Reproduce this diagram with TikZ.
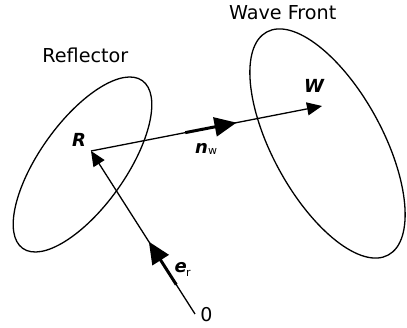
\documentclass[tikz,border=0pt]{standalone}
\usepackage{fontspec}
\setmainfont{DejaVu Sans}
\usetikzlibrary{arrows.meta,calc}
\tikzset{
  outline/.style={line width=1.3pt},
  thinvec/.style={line width=1.3pt,-{Triangle[length=15pt,width=13pt]}},
  thickvec/.style={line width=3pt,-{Triangle[length=22pt,width=19pt]}},
  lbl/.style={inner sep=0pt,outer sep=0pt,anchor=base west},
  pointlbl/.style={lbl,font=\fontsize{18}{20}\selectfont\bfseries\itshape},
  veclbl/.style={lbl,font=\fontsize{18}{20}\selectfont\bfseries\itshape},
  sublbl/.style={lbl,font=\fontsize{11}{12}\selectfont},
  textlbl/.style={lbl,font=\fontsize{19.2}{22}\selectfont},
}
\begin{document}
\begin{tikzpicture}[x=1pt,y=1pt]
\useasboundingbox (0,0) rectangle (407,328);
% ellipses
\draw[outline,rotate around={54.5:(82.5,163.5)}] (82.5,163.5) ellipse [x radius=103pt, y radius=43pt];
\draw[outline,rotate around={-61.4:(327.5,184.5)}] (327.5,184.5) ellipse [x radius=127pt, y radius=55pt];
% points
\coordinate (O) at (195,14);
\coordinate (R) at (91,177);
\coordinate (W) at (322,222);
% connectors
\draw[thinvec] (O) -- (R);
\draw[thinvec] (R) -- (W);
\draw[thickvec] ($(O)!0.18!(R)$) -- ($(O)!0.444!(R)$);
\draw[thickvec] ($(R)!0.408!(W)$) -- ($(R)!0.63!(W)$);
% labels
\node[textlbl] (reflector) at (42.4,265.7) {Reflector};
\node[textlbl] (wavefront) at (229,308.7) {Wave Front};
\node[pointlbl] (Rl) at (72,181) {R};
\node[pointlbl] (Wl) at (304,235.3) {W};
\node[veclbl] (nw) at (195,174) {n};
\node[sublbl] (nwsub) at (208,173) {w};
\node[veclbl] (er) at (174.5,55) {e};
\node[sublbl] (ersub) at (186,51.3) {r};
\node[lbl,font=\fontsize{19}{22}\selectfont] (zero) at (200.4,6.3) {0};
\end{tikzpicture}
\end{document}
